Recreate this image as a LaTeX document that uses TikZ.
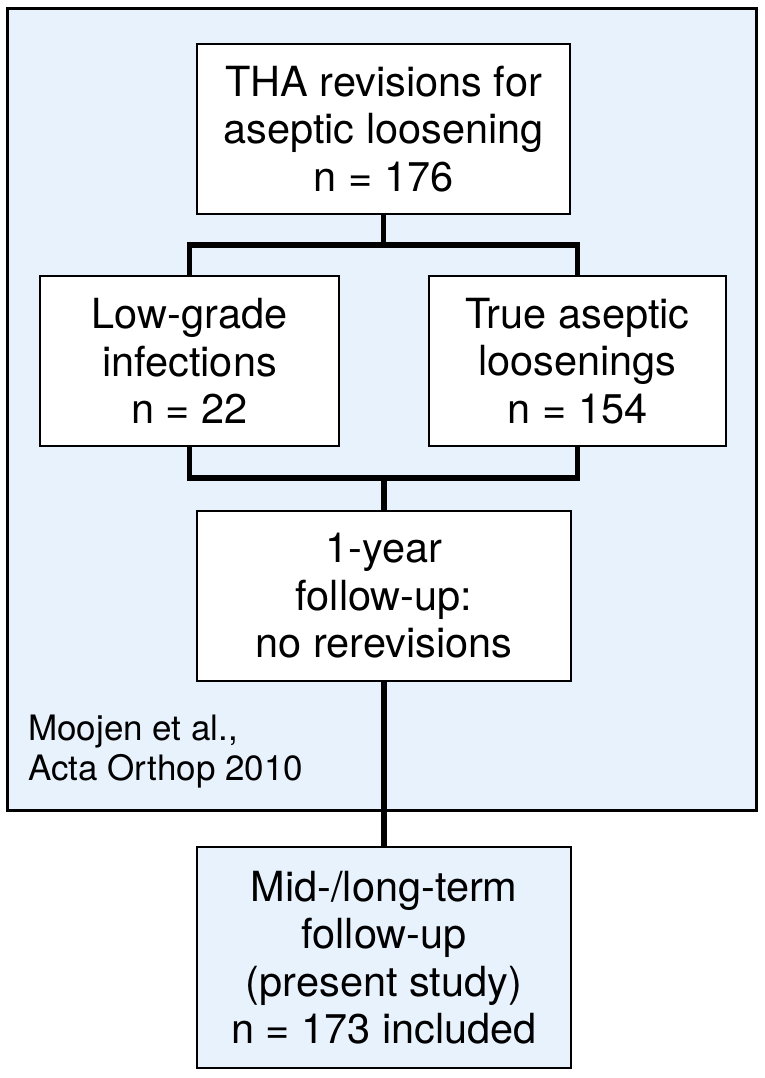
\documentclass[tikz,border=0pt]{standalone}
\usepackage{fontspec}
\setmainfont{TeX Gyre Heros}
\usepackage{tikz}
\usetikzlibrary{calc}
\usetikzlibrary{positioning}
\definecolor{studyblue}{RGB}{232,242,253}

\begin{document}
\begin{tikzpicture}[x=1pt,y=-1pt]
  % some styles
  \tikzset{
    flowbox/.style={
      rectangle,
      draw=black,
      fill=white,
      line width=2.6pt,
      align=center,
      inner sep=0mm,
      outer sep=0mm,
      minimum height=170pt,
      font=\fontsize{41.5}{47.5}\selectfont
    }
  }
  \tikzset{frame/.style={draw=black,fill=studyblue,line width=3pt}}
  \tikzset{link/.style={draw=black,line width=5.5pt}}
  \tikzset{note/.style={align=left,inner sep=0pt,font=\fontsize{35}{40}\selectfont}}

\useasboundingbox (0,0) rectangle (764,1078);

% earlier study
\draw[frame] (7.5,9) rectangle (756,810);

\node[flowbox, minimum width=373pt] (tha) at (383.5,129) {THA revisions for\\aseptic loosening\\n = 176};
\node[flowbox, minimum width=299pt] (lowgrade) at (189.5,361) {Low-grade\\infections\\n = 22};
\node[flowbox, minimum width=297pt] (aseptic) at (577.5,361) {True aseptic\\loosenings\\n = 154};
\node[flowbox, minimum width=374pt] (oneyear) at (384,596) {1-year\\follow-up:\\no rerevisions};
\node[flowbox, minimum width=374pt, minimum height=221pt, fill=studyblue] (midterm) at (384,957.5)
  {Mid-/long-term\\follow-up\\(present study)\\n = 173 included};

\node[note, anchor=west] (source) at (28,752) {Moojen et al.,\\Acta Orthop 2010};

% split and merge
\coordinate (split) at ($(tha.south)+(0,31)$);
\coordinate (merge) at ($(oneyear.north)+(0,-33)$);
\draw[link] (tha.south) -- (split);
\draw[link] (lowgrade.north) |- (split) -| (aseptic.north);
\draw[link] (lowgrade.south) |- (merge) -| (aseptic.south);
\draw[link] (merge) -- (oneyear.north);
\draw[link] (oneyear.south) -- (midterm.north);

\end{tikzpicture}
\end{document}
